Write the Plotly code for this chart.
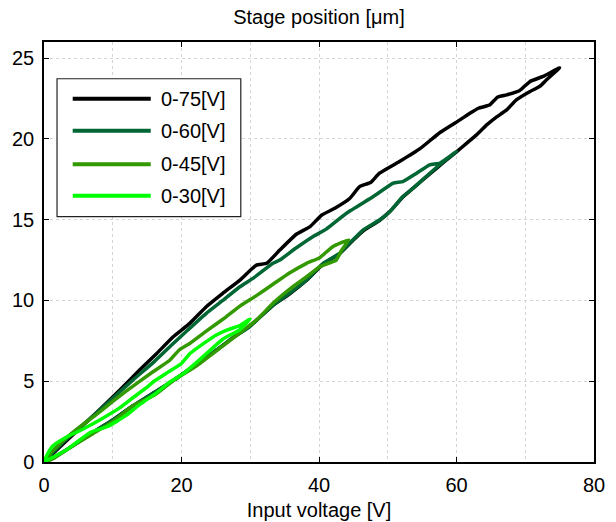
import plotly.graph_objects as go

# ---------------- data ----------------
series_labels = ["0-75[V]", "0-60[V]", "0-45[V]", "0-30[V]"]

# 0-75 V loop (ascending branch then descending branch)
volt_75 = [0, 1.5, 4, 7, 10, 13, 16, 19, 22, 25, 27.5, 29.9, 32, 33.3, 35.7, 38.2, 40.6, 43, 44.9,
           46.4, 48.8, 50.3, 52.2, 53.7, 55.6, 57, 58.1, 60, 61.5, 62.9, 64.4, 65.8, 67.3, 68.7,
           70.7, 72.1, 73.1, 75,
           72.6, 70.7, 69.2, 67.3, 66, 64.8, 63.2, 62, 60.5, 57.6, 54.7, 51.7, 48.8, 47.5, 45.9,
           44.5, 42.3, 40.4, 38.7, 36.7, 34.3, 32.4, 30.9, 28.5, 26, 23.6, 21.2, 18.8, 16.4, 13.9,
           11, 8, 5, 2, 0]
pos_75 = [0, 0.3, 0.95, 1.8, 2.6, 3.5, 4.3, 5.1, 6.0, 6.9, 7.7, 8.4, 9.2, 9.7, 10.4, 11.25, 12.25,
          12.9, 13.7, 14.3, 14.95, 15.5, 16.4, 16.95, 17.65, 18.15, 18.55, 19.2, 19.74, 20.25,
          20.87, 21.35, 21.8, 22.42, 22.94, 23.25, 23.66, 24.4,
          23.87, 23.56, 23.0, 22.73, 22.6, 22.1, 21.9, 21.6, 21.18, 20.4, 19.4, 18.6, 17.88, 17.3,
          17.05, 16.33, 15.71, 15.29, 14.57, 14.1, 13.12, 12.3, 12.19, 11.26, 10.44, 9.61, 8.58,
          7.75, 6.72, 5.69, 4.45, 3.2, 2.0, 0.8, 0]

# 0-60 V loop
volt_60 = [0, 1.5, 4, 7, 10, 13, 16, 19, 22, 25, 27.5, 29.9, 32, 33.3, 35.7, 38.2, 40.6, 43, 44.9,
           46.4, 48.8, 50.3, 52.2, 53.7, 55.6, 57, 58.1, 60,
           57.6, 56.1, 54.2, 52.2, 50.8, 47.9, 44, 41, 39.1, 36.5, 34.3, 33.3, 30.5, 28.5, 26,
           23.6, 21, 18.8, 16, 13, 10, 7, 4, 2, 0]
pos_60 = [0, 0.3, 0.95, 1.8, 2.6, 3.5, 4.3, 5.1, 6.0, 6.9, 7.7, 8.37, 9.2, 9.7, 10.44, 11.27, 12.3,
          12.92, 13.74, 14.36, 14.98, 15.5, 16.43, 16.95, 17.67, 18.2, 18.6, 19.22,
          18.5, 18.39, 17.88, 17.36, 17.26, 16.43, 15.4, 14.4, 13.95, 13.2, 12.5, 12.3, 11.4,
          10.85, 10.0, 9.2, 8.2, 7.34, 6.2, 5.1, 3.95, 2.8, 1.7, 0.9, 0]

# 0-45 V loop
volt_45 = [0, 1.3, 4.2, 7.1, 10, 13, 15.4, 16.4, 19, 22.2, 24.5, 26.5, 28.5, 30.9, 33.3, 36.2,
           38.2, 40.1, 42.5, 43.3, 44.3,
           42, 40.1, 38.2, 35.7, 33.3, 30.9, 28.5, 26.5, 23.6, 21.2, 19.7, 18.3, 15.9, 12, 10,
           7.5, 5.2, 3, 1.3, 0]
pos_45 = [0, 0.2, 1.0, 1.75, 2.5, 3.5, 4.0, 4.24, 5.1, 5.95, 6.7, 7.34, 8.0, 8.78, 9.82, 10.85,
          11.47, 12.09, 12.5, 13.12, 13.75,
          13.33, 12.65, 12.3, 11.7, 11.0, 10.3, 9.65, 8.99, 8.1, 7.34, 6.95, 6.3, 5.6, 4.4, 3.75,
          2.9, 2.17, 1.4, 0.7, 0]

# 0-30 V loop
volt_30 = [0, 1.3, 3.3, 5, 6.6, 7.6, 9.1, 10.5, 12, 13.9, 16.4, 18.3, 20.2, 22, 23.6, 26, 28.5, 30,
           28.5, 26.5, 25, 23.6, 21.2, 20, 18, 16, 14.9, 13, 11, 8.1, 5.5, 3.3, 1.3, 0.4, 0]
pos_30 = [0, 0.3, 0.75, 1.3, 1.8, 1.97, 2.17, 2.5, 2.9, 3.55, 4.3, 4.95, 5.45, 6.1, 6.7, 7.6, 8.2,
          8.85,
          8.45, 8.15, 7.85, 7.45, 6.7, 6.1, 5.55, 5.0, 4.6, 4.0, 3.35, 2.6, 2.0, 1.55, 1.0, 0.4, 0]

x_ticks = [0, 20, 40, 60, 80]
y_ticks = [0, 5, 10, 15, 20, 25]

# ---------------- styling ----------------
colors = ["#000000", "#006633", "#339900", "#00ff00"]
FONT = "Liberation Sans, Arial, sans-serif"
GRID = "#d4d4d4"
FS = 20

fig = go.Figure()
for xs, ys, name, col in zip([volt_75, volt_60, volt_45, volt_30],
                             [pos_75, pos_60, pos_45, pos_30],
                             series_labels, colors):
    fig.add_trace(go.Scatter(x=xs, y=ys, mode="lines", name=name,
                             line=dict(color=col, width=3.5, shape="spline", smoothing=0.4),
                             showlegend=False))

axis_common = dict(
    showline=True, linecolor="black", linewidth=1.5, mirror="ticks",
    ticks="inside", ticklen=5, tickwidth=1, tickcolor="black",
    showgrid=True, gridcolor=GRID, griddash="dot", gridwidth=1,
    zeroline=False, tickfont=dict(size=FS, color="black", family=FONT),
)

fig.update_xaxes(range=[0, 80], tickvals=x_ticks, **axis_common,
                 minor=dict(dtick=10, tick0=0, showgrid=True, gridcolor=GRID,
                            griddash="dot", gridwidth=1, ticks=""),
                 ticklabelstandoff=4,
                 title=dict(text="Input voltage [V]", standoff=8,
                            font=dict(size=FS, color="black", family=FONT)))
fig.update_yaxes(range=[0, 26], tickvals=y_ticks, **axis_common,
                 ticklabelstandoff=4)

# ---------------- legend (drawn in paper coords) ----------------
leg_x0, leg_x1 = 0.0237, 0.3578
leg_y0, leg_y1 = 0.5842, 0.9125
line_x0, line_x1 = 0.0522, 0.1941
entry_y = [0.8646, 0.7885, 0.7091, 0.6342]
text_x = 0.2087

shapes = [dict(type="rect", xref="paper", yref="paper", x0=leg_x0, x1=leg_x1,
               y0=leg_y0, y1=leg_y1, fillcolor="white",
               line=dict(color="#222222", width=1.2), layer="above")]
annotations = []
for lab, col, ey in zip(series_labels, colors, entry_y):
    shapes.append(dict(type="line", xref="paper", yref="paper", x0=line_x0, x1=line_x1,
                       y0=ey, y1=ey, line=dict(color=col, width=4), layer="above"))
    annotations.append(dict(xref="paper", yref="paper", x=text_x, y=ey, text=lab,
                            showarrow=False, xanchor="left", yanchor="middle",
                            font=dict(size=FS, color="black", family=FONT)))

fig.update_layout(
    width=616, height=522,
    margin=dict(l=44, r=22, t=42, b=60, autoexpand=False),
    plot_bgcolor="white", paper_bgcolor="white",
    font=dict(family=FONT, size=FS, color="black"),
    title=dict(text="Stage position [μm]", x=0.5, xref="paper", xanchor="center",
               y=1 - 17 / 522, yref="container", yanchor="middle",
               font=dict(size=FS, color="black", family=FONT)),
    shapes=shapes, annotations=annotations,
    showlegend=False,
)

fig.write_html("out.html",
               config={"displayModeBar": False},
               post_script="document.body.style.margin='0';document.body.style.padding='0';")
